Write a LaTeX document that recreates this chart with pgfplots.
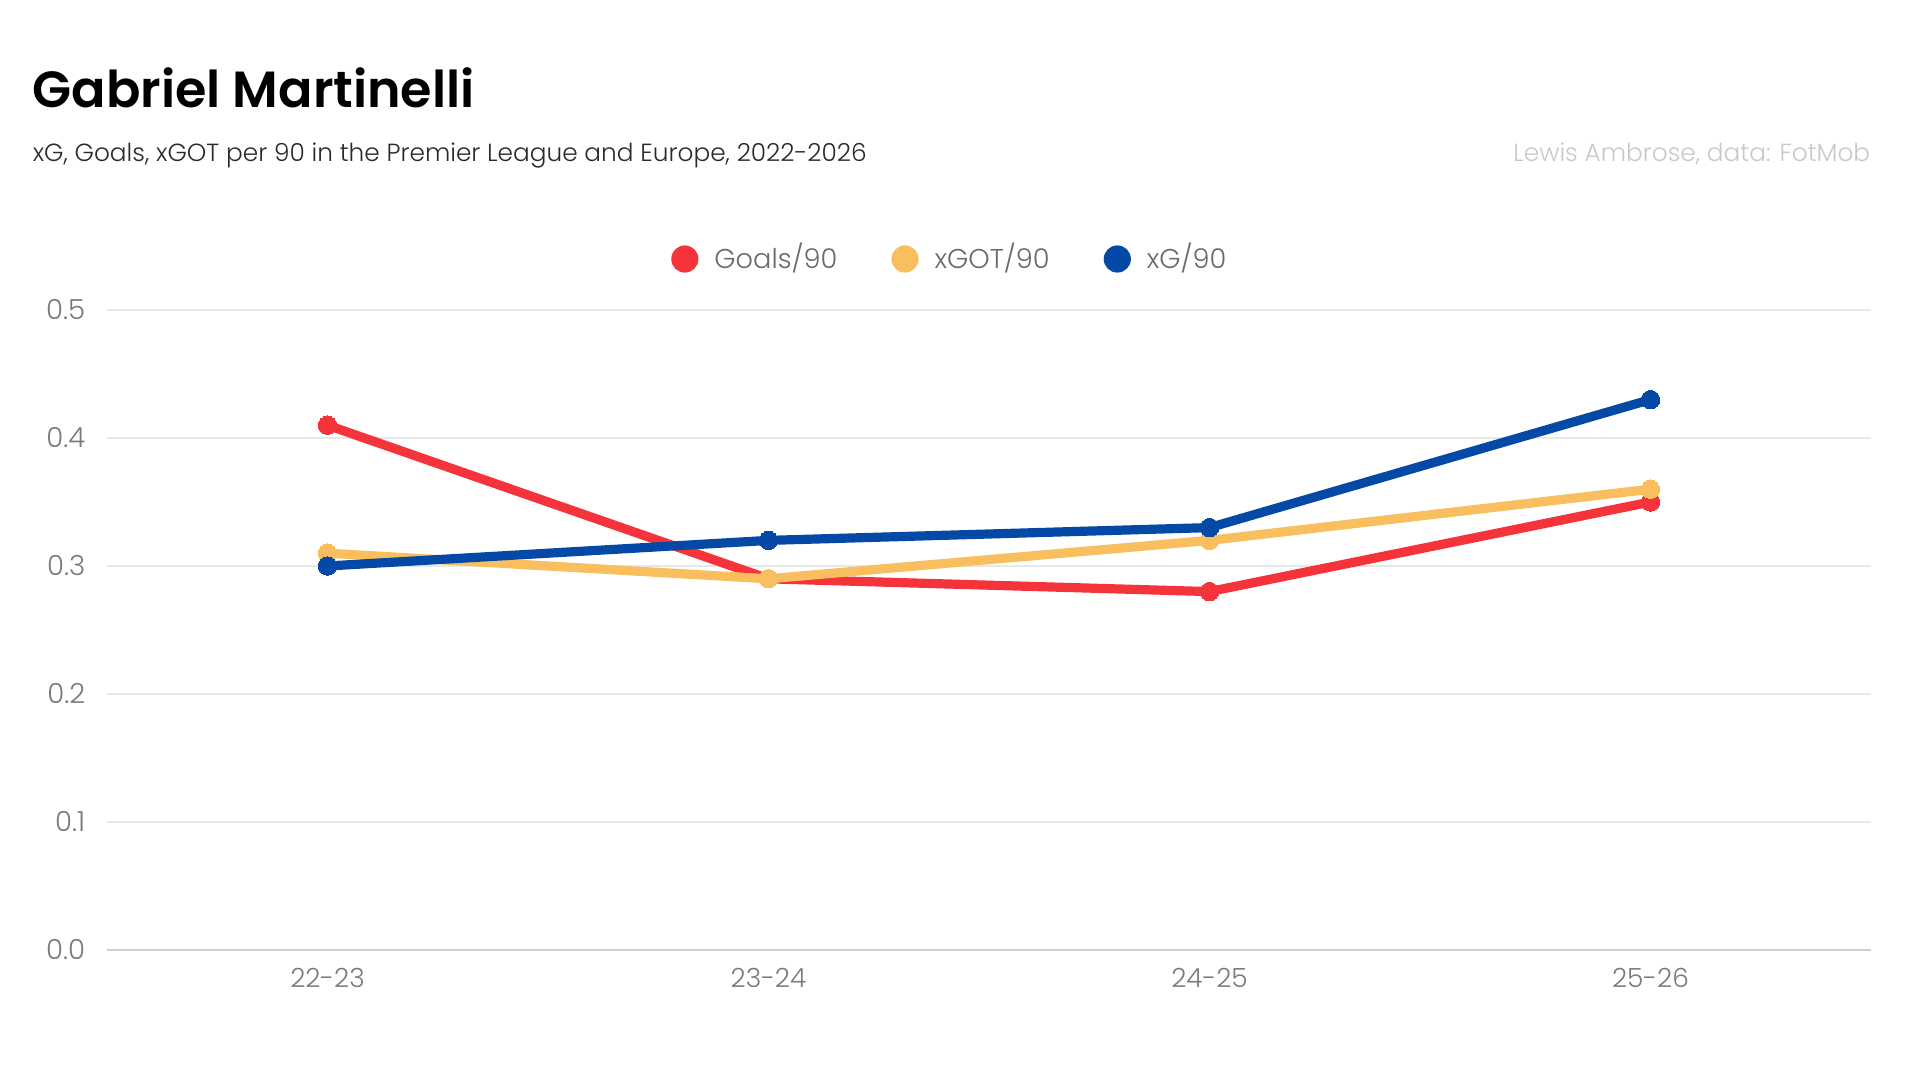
\documentclass[border=0pt]{standalone}
\usepackage{fontspec}
\usepackage{pgfplots}
\pgfplotsset{compat=1.18}
\setmainfont{Poppins}
\newfontfamily\lightfont{Poppins Light}
\newfontfamily\titlefont{Poppins SemiBold}
\definecolor{cred}{HTML}{F5333A}
\definecolor{cyel}{HTML}{F9BE5D}
\definecolor{cblue}{HTML}{0549A7}
\definecolor{cgrid}{HTML}{E8E8E8}
\definecolor{caxis}{HTML}{CFCFCF}
\definecolor{ctick}{HTML}{7A7A7A}
\definecolor{cleg}{HTML}{6A6A6A}
\definecolor{csub}{HTML}{2A2A2A}
\definecolor{ccred}{HTML}{C8C8C8}
\begin{document}
\begin{tikzpicture}
\useasboundingbox (0,0) rectangle (480pt,270pt);
\node[anchor=base west, inner sep=0pt, font=\titlefont\fontsize{12.7pt}{15pt}\selectfont] at (8pt,243pt) {Gabriel Martinelli};
\node[anchor=base west, inner sep=0pt, text=csub, font=\lightfont\fontsize{6.2pt}{8pt}\selectfont] at (8pt,229.5pt) {xG, Goals, xGOT per 90 in the Premier League and Europe, 2022-2026};
\node[anchor=base east, inner sep=0pt, text=ccred, font=\lightfont\fontsize{6.2pt}{8pt}\selectfont] at (467.75pt,229.5pt) {Lewis Ambrose, data: FotMob};
\begin{axis}[
  at={(26.75pt,32.5pt)}, anchor=south west,
  scale only axis, width=441pt, height=160pt,
  xmin=-0.5, xmax=3.5, ymin=0, ymax=0.5,
  axis line style={draw=none},
  major tick length=0pt,
  xtick={0,1,2,3}, xticklabels={22-23,23-24,24-25,25-26},
  ytick={0,0.1,0.2,0.3,0.4,0.5},
  ymajorgrids, grid style={cgrid, line width=0.4pt},
  /pgf/number format/assume math mode=true,
  yticklabel style={/pgf/number format/fixed, /pgf/number format/precision=1, /pgf/number format/fixed zerofill, font=\lightfont\fontsize{6.9pt}{8pt}\selectfont, text=ctick, inner sep=0pt, xshift=-5.25pt},
  xticklabel style={font=\lightfont\fontsize{6.6pt}{8pt}\selectfont, text=ctick, inner sep=0pt, yshift=-4.3pt},
  clip=false,
  legend style={draw=none, fill=none, at={(0.4795,1.0797)}, anchor=center, legend columns=3,
    font=\lightfont\fontsize{6.8pt}{9pt}\selectfont, text=cleg,
    /tikz/every even column/.append style={column sep=11.5pt}},
  legend cell align=left,
  legend image code/.code={\fill[#1, draw=none] (0pt,0pt) circle (3.4pt); \path[draw=none, fill=none] (5.4pt,0pt);},
]
\draw[caxis, line width=0.5pt] (axis cs:-0.5,0) -- (axis cs:3.5,0);
\addplot[cred, line width=2.3pt, mark=*, mark size=2.3pt, mark options={fill=cred, draw=cred, line width=0pt}] coordinates {(0,0.41) (1,0.29) (2,0.28) (3,0.35)};
\addlegendentry{Goals/90}
\addplot[cyel, line width=2.3pt, mark=*, mark size=2.3pt, mark options={fill=cyel, draw=cyel, line width=0pt}] coordinates {(0,0.31) (1,0.29) (2,0.32) (3,0.36)};
\addlegendentry{xGOT/90}
\addplot[cblue, line width=2.3pt, mark=*, mark size=2.3pt, mark options={fill=cblue, draw=cblue, line width=0pt}] coordinates {(0,0.30) (1,0.32) (2,0.33) (3,0.43)};
\addlegendentry{xG/90}
\end{axis}
\end{tikzpicture}
\end{document}
